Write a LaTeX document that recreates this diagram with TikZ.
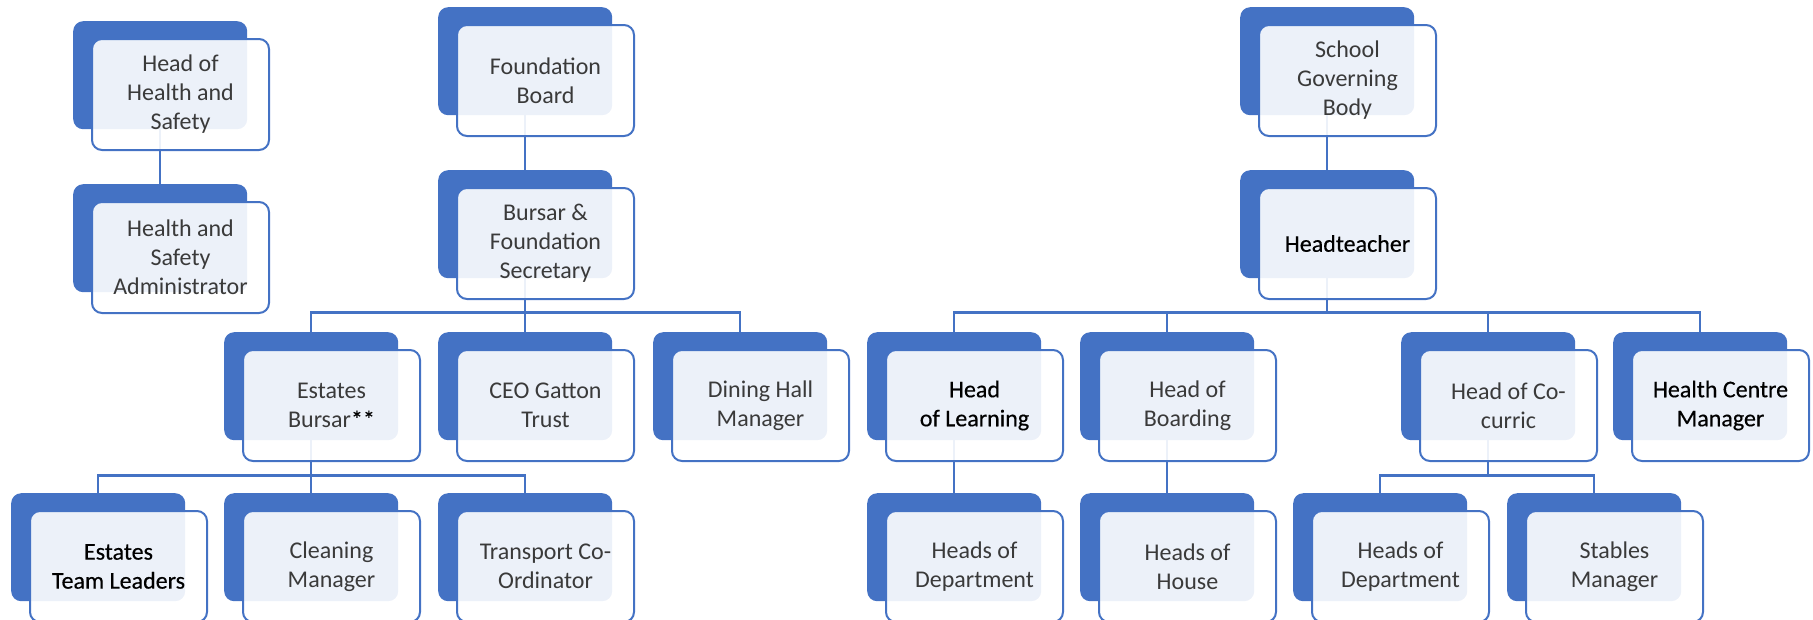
\documentclass[tikz,border=0pt]{standalone}
\usepackage{fontspec}
\setmainfont{Carlito}
\newfontface\emb{Carlito}[FakeBold=0.4]
\usetikzlibrary{positioning}
\definecolor{accent}{HTML}{4472C4}
\definecolor{txt}{HTML}{3A3A3A}
\pgfdeclarelayer{foreground}
\pgfsetlayers{main,foreground}
\tikzset{
  back/.style={anchor=north west, fill=accent, draw=none, rounded corners=10pt,
    minimum width=174pt, minimum height=108pt, inner sep=0pt},
  front/.style={anchor=north west, fill=white, fill opacity=0.9, text opacity=1,
    draw=accent, draw opacity=1, line width=2pt, rounded corners=10pt,
    minimum width=177pt, minimum height=111pt, inner sep=0pt, align=center,
    text=txt, font=\fontsize{24}{29}\selectfont},
  conn/.style={draw=accent, line width=2.2pt}
}
\newcommand\orgunit[4]{%
  \node[back] (#1) at (#2,#3) {};
  \begin{pgfonlayer}{foreground}
  \node[front] (#1T) at ([xshift=18pt,yshift=-17pt]#1.north west) {#4};
  \end{pgfonlayer}
}
\newcommand\emtext[1]{{\emb\color{black}#1}}
\begin{document}
\begin{tikzpicture}[x=1pt,y=-1pt]
\useasboundingbox (0,0) rectangle (1813,619);
% row 1
\orgunit{hhs}{73}{21}{Head of\\Health and\\Safety}
\orgunit{fb}{438}{7}{Foundation\\Board}
\orgunit{sgb}{1240}{7}{School\\Governing\\Body}
% row 2
\orgunit{hsa}{73}{184}{Health and\\Safety\\Administrator}
\orgunit{bfs}{438}{170}{Bursar \&\\Foundation\\Secretary}
\orgunit{ht}{1240}{170}{\emtext{Headteacher}}
% row 3
\orgunit{eb}{224}{332}{Estates\\Bursar\emtext{**}}
\orgunit{ceo}{438}{332}{CEO Gatton\\Trust}
\orgunit{dh}{653}{332}{Dining Hall\\Manager}
\orgunit{hl}{867}{332}{\emtext{Head}\\\emtext{of Learning}}
\orgunit{hb}{1080}{332}{Head of\\Boarding}
\orgunit{hc}{1401}{332}{Head of Co-\\curric}
\orgunit{hcm}{1613}{332}{\emtext{Health Centre}\\\emtext{Manager}}
% row 4
\orgunit{etl}{11}{493}{\emtext{Estates}\\\emtext{Team Leaders}}
\orgunit{cm}{224}{493}{Cleaning\\Manager}
\orgunit{tc}{438}{493}{Transport Co-\\Ordinator}
\orgunit{hd1}{867}{493}{Heads of\\Department}
\orgunit{hh}{1080}{493}{Heads of\\House}
\orgunit{hd2}{1293}{493}{Heads of\\Department}
\orgunit{sm}{1507}{493}{Stables\\Manager}
% connectors
\draw[conn] (hhs.south) -- (hsa.north);
\draw[conn] (fb.south) -- (bfs.north);
\draw[conn] (sgb.south) -- (ht.north);
\foreach \c in {eb,ceo,dh}
  \draw[conn] (bfs.south) -- ++(0,34) -| (\c.north);
\foreach \c in {hl,hb,hc,hcm}
  \draw[conn] (ht.south) -- ++(0,34) -| (\c.north);
\foreach \c in {etl,cm,tc}
  \draw[conn] (eb.south) -- ++(0,35) -| (\c.north);
\draw[conn] (hl.south) -- (hd1.north);
\draw[conn] (hb.south) -- (hh.north);
\foreach \c in {hd2,sm}
  \draw[conn] (hc.south) -- ++(0,35) -| (\c.north);
\end{tikzpicture}
\end{document}
